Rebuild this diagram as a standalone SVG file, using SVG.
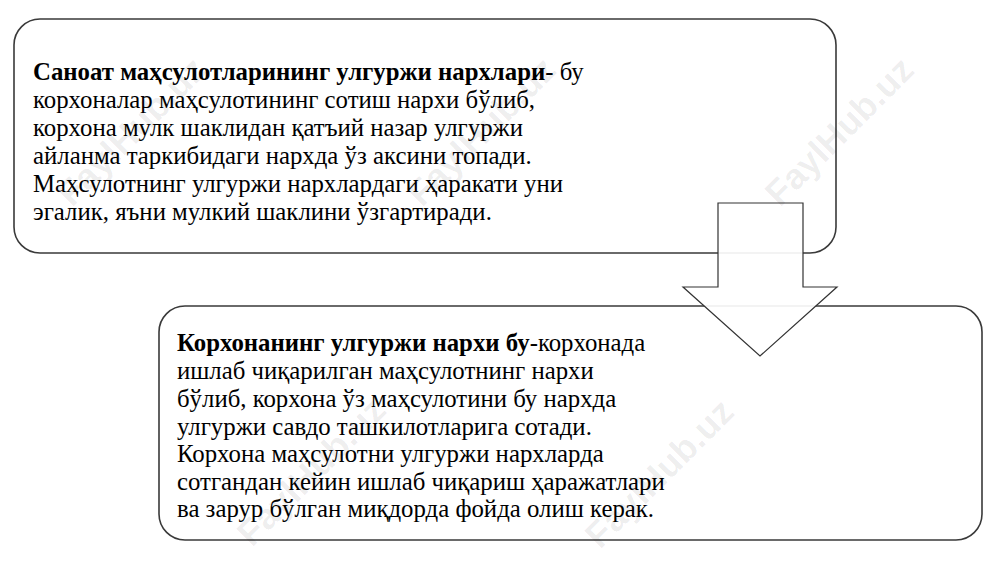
<svg xmlns="http://www.w3.org/2000/svg" width="1000" height="562" viewBox="0 0 1000 562">
<style>
.box{fill:#fff;stroke:#3a3a3a;stroke-width:1.6}
.t{font-family:"Liberation Serif","Times New Roman",serif;font-size:24.8px;fill:#000}
.b{font-weight:bold}
.wm{font-family:"Liberation Sans",Arial,sans-serif;font-weight:bold;font-size:36px;fill:#000;fill-opacity:0.07}
.arrow{fill:#fff;fill-opacity:0.92;stroke:#333;stroke-width:1.2}
</style>
<rect width="1000" height="562" fill="#fff"/>
<g id="node1">
<rect class="box" x="14" y="19" width="822" height="234" rx="26" ry="26"/>
<text class="t" x="33" y="80"><tspan class="b">Саноат маҳсулотларининг улгуржи нархлари</tspan>- бу</text>
<text class="t" x="33" y="108">корхоналар маҳсулотининг сотиш нархи бўлиб,</text>
<text class="t" x="33" y="136">корхона мулк шаклидан қатъий назар улгуржи</text>
<text class="t" x="33" y="164">айланма таркибидаги нархда ўз аксини топади.</text>
<text class="t" x="33" y="192">Маҳсулотнинг улгуржи нархлардаги ҳаракати уни</text>
<text class="t" x="33" y="220">эгалик, яъни мулкий шаклини ўзгартиради.</text>
</g>
<g id="node2">
<rect class="box" x="159" y="306" width="823" height="234" rx="26" ry="26"/>
<text class="t" x="177" y="351"><tspan class="b">Корхонанинг улгуржи нархи бу</tspan>-корхонада</text>
<text class="t" x="177" y="379">ишлаб чиқарилган маҳсулотнинг нархи</text>
<text class="t" x="177" y="407">бўлиб, корхона ўз маҳсулотини бу нархда</text>
<text class="t" x="177" y="435">улгуржи савдо ташкилотларига сотади.</text>
<text class="t" x="177" y="462">Корхона маҳсулотни улгуржи нархларда</text>
<text class="t" x="177" y="490">сотгандан кейин ишлаб чиқариш ҳаражатлари</text>
<text class="t" x="177" y="517">ва зарур бўлган миқдорда фойда олиш керак.</text>
</g>
<g id="connectors">
<polygon class="arrow" points="718,203 803,203 803,287 837,287 760,356 683,287 718,287"/>
</g>
<g id="watermarks">
<text class="wm" text-anchor="middle" transform="translate(848,140) rotate(-45)">FaylHub.uz</text>
<text class="wm" text-anchor="middle" transform="translate(490,140) rotate(-45)">FaylHub.uz</text>
<text class="wm" text-anchor="middle" transform="translate(140,140) rotate(-45)">FaylHub.uz</text>
<text class="wm" text-anchor="middle" transform="translate(668,482) rotate(-45)">FaylHub.uz</text>
<text class="wm" text-anchor="middle" transform="translate(320,480) rotate(-45)">FaylHub.uz</text>
</g>
</svg>
